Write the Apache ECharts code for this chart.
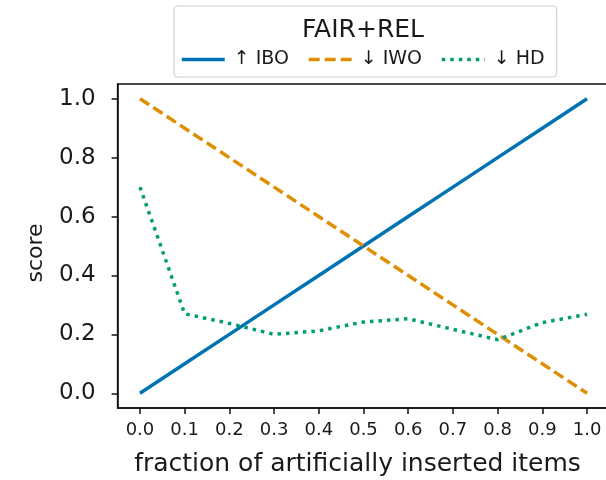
<!DOCTYPE html>
<html>
<head>
<meta charset="utf-8">
<script src="https://cdn.jsdelivr.net/npm/echarts@6/dist/echarts.min.js"></script>
<style>
  html, body { margin: 0; padding: 0; background: #fff; }
  #chart { width: 606px; height: 480px; }
</style>
</head>
<body>
<div id="chart"></div>
<script>
// Fraction of artificially inserted items (x axis)
const fractions = [0.0, 0.1, 0.2, 0.3, 0.4, 0.5, 0.6, 0.7, 0.8, 0.9, 1.0];
// Scores per metric
const iboScores = [0.0, 0.1, 0.2, 0.3, 0.4, 0.5, 0.6, 0.7, 0.8, 0.9, 1.0];
const iwoScores = [1.0, 0.9, 0.8, 0.7, 0.6, 0.5, 0.4, 0.3, 0.2, 0.1, 0.0];
const hdScores  = [0.70, 0.27, 0.237, 0.20, 0.212, 0.242, 0.253, 0.217, 0.182, 0.24, 0.268];
// Tick labels
const xTicks = [0.0, 0.1, 0.2, 0.3, 0.4, 0.5, 0.6, 0.7, 0.8, 0.9, 1.0];
const yTicks = [0.0, 0.2, 0.4, 0.6, 0.8, 1.0];
const seriesNames = ['\u2191 IBO', '\u2193 IWO', '\u2193 HD'];
const legendTitle = 'FAIR+REL';

const FONT = 'DejaVu Sans';
const pairs = ys => fractions.map((x, i) => [x, ys[i]]);

const chart = echarts.init(document.getElementById('chart'), null, { renderer: 'canvas' });
chart.setOption({
  animation: false,
  backgroundColor: '#ffffff',
  textStyle: { fontFamily: FONT, color: '#1a1a1a' },
  title: {
    text: legendTitle,
    left: 297,
    top: 13,
    textStyle: { fontFamily: FONT, fontSize: 25, fontWeight: 'normal', color: '#1a1a1a' }
  },
  legend: {
    left: 174,
    top: 6,
    padding: [44, 12, 8, 6],
    borderColor: '#d0d0d0',
    borderWidth: 1.2,
    borderRadius: 4,
    backgroundColor: '#ffffff',
    itemWidth: 43,
    itemHeight: 12,
    itemGap: 18,
    itemStyle: { opacity: 0, borderWidth: 0 },
    lineStyle: { width: 3.5 },
    textStyle: { fontFamily: FONT, fontSize: 19, color: '#1a1a1a', padding: [0, 0, 0, 4] },
    data: seriesNames
  },
  grid: {
    left: 117.6, width: 491.8, top: 84, bottom: 72,
    outerBoundsMode: 'none', containLabel: false,
    show: true, borderColor: '#111', borderWidth: 1.5, backgroundColor: 'transparent'
  },
  xAxis: {
    type: 'value',
    min: -0.05,
    max: 1.05,
    name: 'fraction of artificially inserted items',
    nameLocation: 'middle',
    nameGap: 44,
    nameTextStyle: { fontFamily: FONT, fontSize: 25, color: '#1a1a1a', padding: [0, 12, 0, 0] },
    axisLine: { show: true, onZero: false, lineStyle: { color: '#111', width: 1.5 } },
    axisTick: { show: true, length: 6, customValues: xTicks, lineStyle: { color: '#111', width: 1.5 } },
    axisLabel: { customValues: xTicks, margin: 13, fontSize: 18, color: '#1a1a1a', fontFamily: FONT, formatter: v => v.toFixed(1) },
    splitLine: { show: false }
  },
  yAxis: {
    type: 'value',
    min: -0.05,
    max: 1.05,
    name: 'score',
    nameLocation: 'middle',
    nameGap: 70,
    nameRotate: 90,
    nameTextStyle: { fontFamily: FONT, fontSize: 22, color: '#1a1a1a', padding: [0, 14, 0, 0] },
    axisLine: { show: true, onZero: false, lineStyle: { color: '#111', width: 1.5 } },
    axisTick: { show: true, length: 6, customValues: yTicks, lineStyle: { color: '#111', width: 1.5 } },
    axisLabel: { customValues: yTicks, margin: 22, fontSize: 23, color: '#1a1a1a', fontFamily: FONT, formatter: v => v.toFixed(1) },
    splitLine: { show: false }
  },
  series: [
    {
      name: seriesNames[0], type: 'line', data: pairs(iboScores),
      symbol: 'none', color: '#0173b2',
      lineStyle: { width: 3.5, color: '#0173b2', cap: 'butt' }
    },
    {
      name: seriesNames[1], type: 'line', data: pairs(iwoScores),
      symbol: 'none', color: '#de8f05',
      lineStyle: { width: 3.5, color: '#de8f05', type: [11, 5], cap: 'butt' }
    },
    {
      name: seriesNames[2], type: 'line', data: pairs(hdScores),
      symbol: 'none', color: '#029e73',
      lineStyle: { width: 3.5, color: '#029e73', type: [3.5, 5], cap: 'butt' }
    }
  ]
});
</script>
</body>
</html>
